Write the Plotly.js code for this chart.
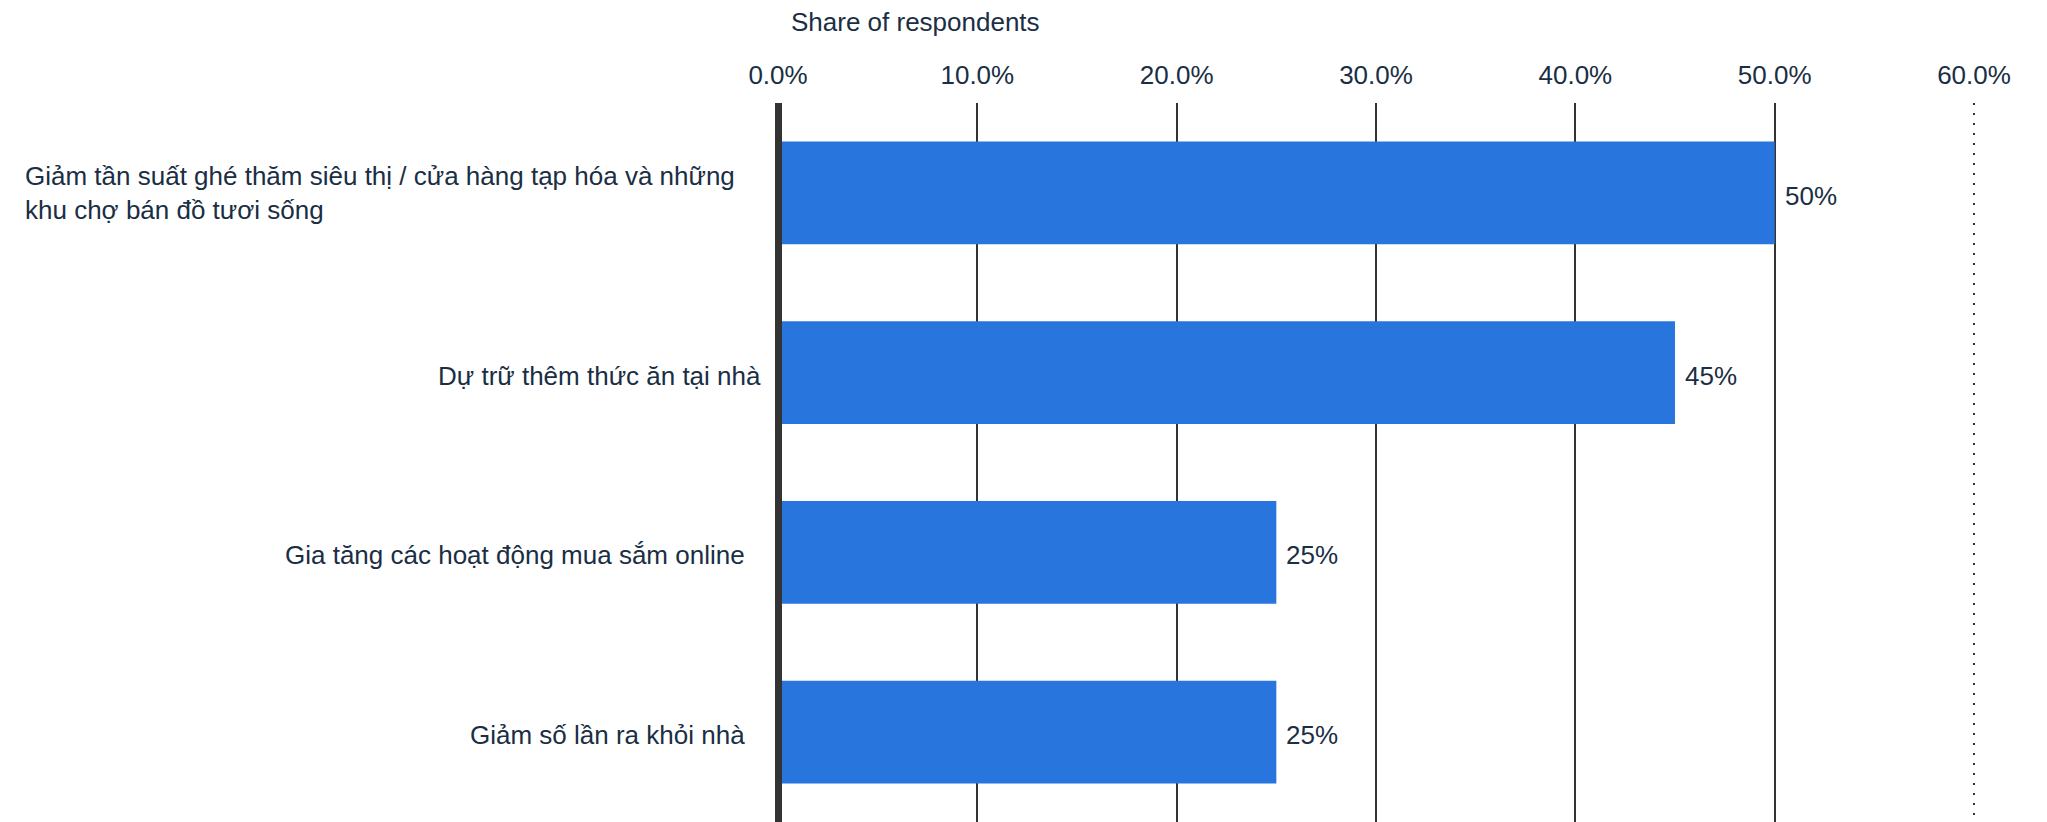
<!DOCTYPE html>
<html>
<head>
<meta charset="utf-8">
<script src="https://cdn.plot.ly/plotly-3.0.1.min.js"></script>
<style>
  html, body { margin: 0; padding: 0; background: #ffffff; overflow: hidden; }
  #chart { width: 2047px; height: 822px; }
</style>
</head>
<body>
<div id="chart"></div>
<script>
// ---- data ----
const categories = [
  "Giảm tần suất ghé thăm siêu thị / cửa hàng tạp hóa và những<br>khu chợ bán đồ tươi sống",
  "Dự trữ thêm thức ăn tại nhà",
  "Gia tăng các hoạt động mua sắm online",
  "Giảm số lần ra khỏi nhà"
];
const shares = [50, 45, 25, 25];
const solidTicks = [0, 10, 20, 30, 40, 50];
const solidTickLabels = ["0.0%", "10.0%", "20.0%", "30.0%", "40.0%", "50.0%"];
const dottedTicks = [60];
const dottedTickLabels = ["60.0%"];
const axisTitle = "Share of respondents";

// ---- style ----
const FONT = '"Liberation Sans", Arial, sans-serif';
const TEXT = '#1a2e44';
const BAR = '#2876dd';
const GRID = '#333333';
const FS = 26;
const labelShift = [-41, -15, -31, -31];   // right-edge offsets of category labels (px)
const labelAlign = ['left', 'right', 'right', 'right'];
const labelYShift = [0, -3, -3, -3];

const ids = categories.map((c, i) => 'c' + i);

const traces = [
  {
    type: 'bar',
    orientation: 'h',
    x: shares,
    y: ids,
    marker: { color: BAR, line: { width: 0 } },
    hoverinfo: 'skip',
    showlegend: false
  },
  {
    type: 'scatter', x: [], y: [], xaxis: 'x2', yaxis: 'y',
    hoverinfo: 'skip', showlegend: false
  }
];

const annotations = [];
categories.forEach((c, i) => {
  annotations.push({
    xref: 'paper', yref: 'y', x: 0, y: ids[i],
    xanchor: 'right', yanchor: 'middle', xshift: labelShift[i], yshift: labelYShift[i],
    text: c, align: labelAlign[i], showarrow: false,
    font: { family: FONT, size: FS, color: TEXT }
  });
  annotations.push({
    xref: 'x', yref: 'y', x: shares[i], y: ids[i],
    xanchor: 'left', yanchor: 'middle', xshift: 8, yshift: -3,
    text: shares[i] + '%', showarrow: false,
    font: { family: FONT, size: FS, color: TEXT }
  });
});

const xRange = [0, 60.3];
const commonX = {
  range: xRange, side: 'top', showline: false, zeroline: false,
  ticks: '', ticklabelstandoff: 13,
  tickfont: { family: FONT, size: FS, color: TEXT },
  fixedrange: true
};

const layout = {
  width: 2047, height: 822,
  margin: { l: 778, r: 67, t: 103, b: 0, pad: 0 },
  paper_bgcolor: '#ffffff', plot_bgcolor: '#ffffff',
  bargap: 0.428,
  title: {
    text: axisTitle, xref: 'paper', x: 0.0108, xanchor: 'left',
    yref: 'container', y: 1 - 22 / 822, yanchor: 'middle',
    font: { family: FONT, size: FS, color: TEXT }
  },
  xaxis: Object.assign({}, commonX, {
    anchor: 'y', tickmode: 'array', tickvals: solidTicks, ticktext: solidTickLabels,
    showgrid: true, gridcolor: GRID, gridwidth: 2
  }),
  xaxis2: Object.assign({}, commonX, {
    overlaying: 'x', anchor: 'y', tickmode: 'array', tickvals: dottedTicks, ticktext: dottedTickLabels,
    showgrid: true, gridcolor: GRID, gridwidth: 2, griddash: '2px,8px'
  }),
  yaxis: {
    type: 'category', categoryorder: 'array', categoryarray: ids,
    range: [3.5, -0.5], showticklabels: false, ticks: '',
    showgrid: false, zeroline: false,
    showline: true, linecolor: GRID, linewidth: 7,
    anchor: 'free', position: 0, layer: 'above traces', fixedrange: true
  },
  annotations: annotations,
  showlegend: false
};

Plotly.newPlot('chart', traces, layout, { staticPlot: true, displayModeBar: false });
</script>
</body>
</html>
